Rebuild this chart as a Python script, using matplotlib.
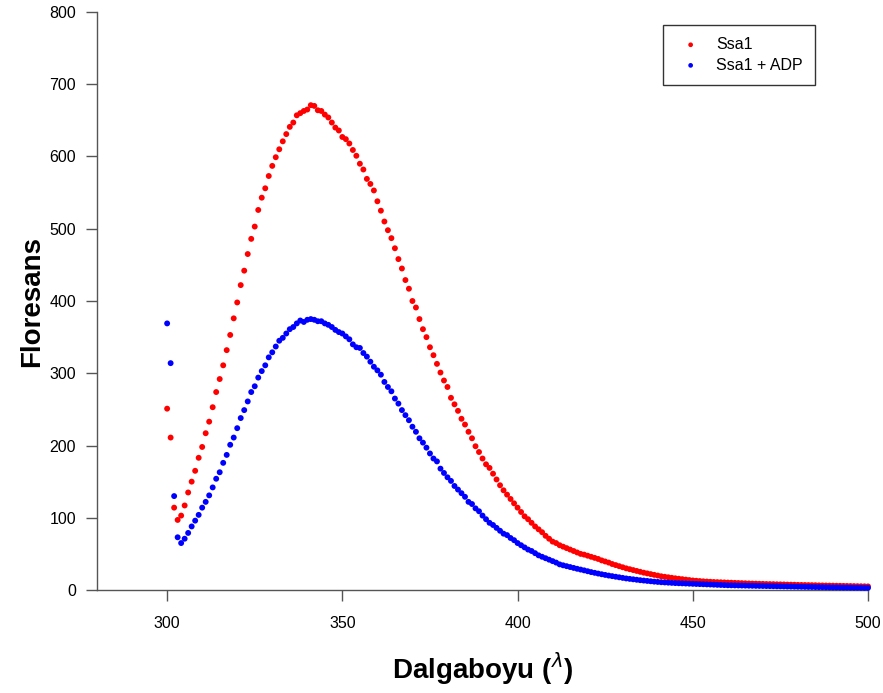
import numpy as np
import matplotlib.pyplot as plt

wavelength = np.arange(300, 501)

ssa1 = [251, 211, 114, 97, 103, 117, 135, 150, 165, 183,
        198, 217, 233, 253, 274, 292, 311, 332, 353, 376,
        398, 422, 442, 465, 486, 503, 526, 543, 556, 573,
        587, 599, 610, 621, 631, 641, 647, 657, 660, 663,
        665, 671, 670, 664, 663, 658, 654, 647, 640, 636,
        627, 624, 618, 609, 601, 590, 582, 569, 562, 553,
        538, 525, 510, 498, 487, 473, 458, 445, 429, 417,
        400, 391, 375, 361, 350, 336, 325, 313, 301, 290,
        281, 266, 257, 248, 237, 229, 219, 210, 199, 191,
        182, 174, 169, 161, 153, 145, 138, 132, 126, 120,
        114, 108, 102, 98, 93, 88, 84, 80, 75, 71,
        67, 65, 62, 60, 58, 56, 54, 52, 50, 49,
        47.5, 46, 44.5, 43, 41, 39.5, 38, 36, 34.5, 33,
        31.5, 30, 28.8, 27.6, 26.4, 25.2, 24, 23, 22, 21,
        20, 19, 18.3, 17.6, 16.9, 16.2, 15.6, 15, 14.4, 13.8,
        13.2, 12.8, 12.4, 12, 11.7, 11.4, 11.1, 10.9, 10.7, 10.5,
        10.3, 10.1, 9.9, 9.7, 9.5, 9.3, 9.1, 8.9, 8.8, 8.6,
        8.5, 8.3, 8.2, 8.1, 7.9, 7.8, 7.7, 7.5, 7.4, 7.3,
        7.1, 7.0, 6.9, 6.8, 6.7, 6.6, 6.4, 6.3, 6.2, 6.1,
        6.0, 5.9, 5.8, 5.7, 5.6, 5.5, 5.4, 5.3, 5.2, 5.1,
        5.0]

ssa1_adp = [369, 314, 130, 73, 65, 71, 79, 88, 96, 104,
            114, 122, 131, 142, 154, 163, 176, 187, 201, 211,
            224, 238, 249, 261, 274, 282, 294, 303, 311, 322,
            329, 337, 345, 349, 355, 361, 364, 369, 373, 371,
            374, 375, 374, 372, 372, 369, 367, 364, 360, 357,
            355, 351, 347, 340, 336, 335, 328, 323, 316, 309,
            304, 298, 288, 281, 275, 265, 258, 249, 242, 235,
            226, 219, 210, 204, 197, 189, 182, 178, 168, 162,
            156, 151, 144, 139, 134, 129, 122, 119, 113, 109,
            103, 98, 93, 90, 86, 82, 78, 76, 72, 69,
            65, 62, 59, 56, 54, 51, 48, 46, 44, 42,
            40, 38, 35.5, 34.2, 33, 31.8, 30.6, 29.4, 28.3, 27.2,
            26, 24.8, 23.8, 22.8, 21.8, 20.9, 20, 19.2, 18.4, 17.6,
            16.8, 16, 15.4, 14.8, 14.2, 13.6, 13.1, 12.6, 12.1, 11.6,
            11.2, 10.8, 10.5, 10.2, 9.9, 9.6, 9.4, 9.2, 9.0, 8.8,
            8.6, 8.4, 8.2, 8.0, 7.8, 7.6, 7.4, 7.2, 7.0, 6.8,
            6.6, 6.5, 6.4, 6.3, 6.2, 6.1, 6.0, 5.9, 5.8, 5.7,
            5.6, 5.5, 5.4, 5.3, 5.2, 5.1, 5.0, 4.9, 4.8, 4.7,
            4.6, 4.5, 4.4, 4.3, 4.2, 4.1, 4.0, 3.9, 3.8, 3.7,
            3.6, 3.6, 3.5, 3.4, 3.4, 3.3, 3.2, 3.2, 3.1, 3.0,
            3.0]

labels = ["Ssa1", "Ssa1 + ADP"]

plt.rcParams['font.family'] = ['Liberation Sans', 'DejaVu Sans']

fig = plt.figure(figsize=(8.83, 6.93), dpi=100)
ax = fig.add_axes([0.1099, 0.1486, 0.8731, 0.8341])

ax.scatter(wavelength, ssa1, s=18, color='#ff0000', edgecolors='none',
           label=labels[0], clip_on=False, zorder=3)
ax.scatter(wavelength, ssa1_adp, s=18, color='#0000ff', edgecolors='none',
           label=labels[1], clip_on=False, zorder=3)

ax.set_xlim(280, 500)
ax.set_ylim(0, 800)
ax.set_xticks([300, 350, 400, 450, 500])
ax.set_yticks(np.arange(0, 801, 100))

for side in ['top', 'right']:
    ax.spines[side].set_visible(False)
for side in ['left', 'bottom']:
    ax.spines[side].set_color('#555555')
    ax.spines[side].set_linewidth(1.0)
ax.tick_params(direction='out', length=8, width=1.0, color='#555555',
               labelsize=11.5, pad=7)
ax.tick_params(axis='x', pad=11)

ax.set_xlabel('Dalgaboyu ($^{\\lambda}$)', fontsize=20, fontweight='bold',
              labelpad=14)
ax.set_ylabel('Floresans', fontsize=20, fontweight='bold', labelpad=3)

leg = ax.legend(loc='upper right', bbox_to_anchor=(0.931, 0.9775),
                frameon=True, fancybox=False, fontsize=11.5, markerscale=0.8,
                handlelength=2.0, handletextpad=0.6, borderpad=0.75,
                labelspacing=0.35, borderaxespad=0)
leg.get_frame().set_edgecolor('black')
leg.get_frame().set_linewidth(1.0)

fig.savefig('out.png', dpi=100)
